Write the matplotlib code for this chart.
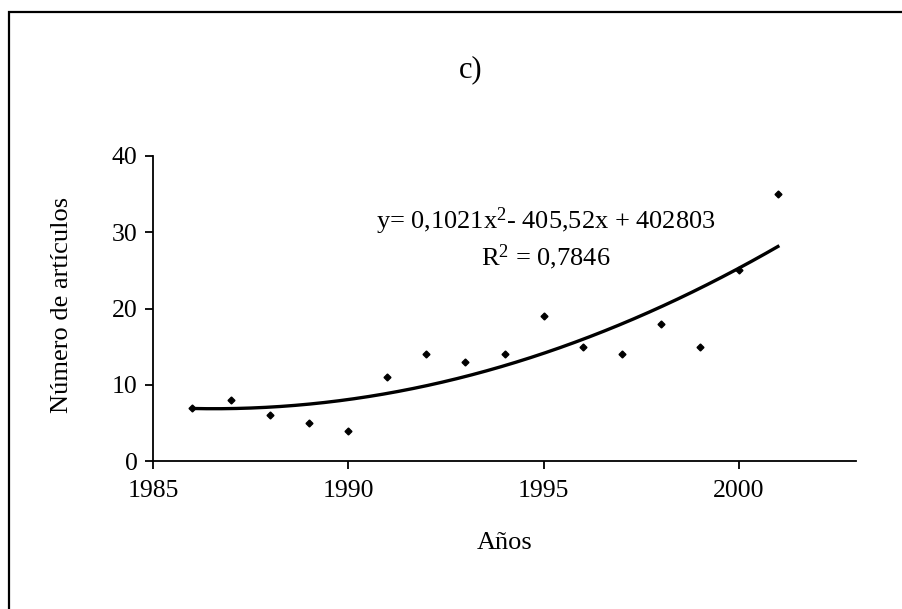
import numpy as np
import matplotlib
matplotlib.use('Agg')
import matplotlib.pyplot as plt
from matplotlib.patches import Rectangle

plt.rcParams['font.family'] = ['Liberation Serif', 'DejaVu Serif']
plt.rcParams['mathtext.fontset'] = 'custom'
plt.rcParams['mathtext.rm'] = 'Liberation Serif'
plt.rcParams['mathtext.it'] = 'Liberation Serif'

# datos
anios = [1986, 1987, 1988, 1989, 1990, 1991, 1992, 1993,
         1994, 1995, 1996, 1997, 1998, 1999, 2000, 2001]
articulos = [7, 8, 6, 5, 4, 11, 14, 13, 14, 19, 15, 14, 18, 15, 25, 35]
xticks = [1985, 1990, 1995, 2000]
yticks = [0, 10, 20, 30, 40]
ecuacion = r'y= 0,1021x$^{2}$- 405,52x + 402803'
r2 = r'R$^{2}$ = 0,7846'

W, H = 903, 609
fig = plt.figure(figsize=(W / 100, H / 100), dpi=100)
ax = fig.add_axes([153 / W, 1 - 461 / H, 703 / W, 305 / H])

# marco exterior
fig.add_artist(Rectangle((9 / W, -0.2), 1.5, 1.2 - 12 / H,
                         transform=fig.transFigure, fill=False,
                         edgecolor='black', linewidth=1.6))

# puntos
ax.plot(anios, articulos, linestyle='none', marker='D', markersize=3.5,
        color='black')

# línea de tendencia polinómica (grado 2)
x = np.array(anios, dtype=float)
c = np.polyfit(x - 1993, articulos, 2)
xx = np.linspace(anios[0], anios[-1], 200)
ax.plot(xx, np.polyval(c, xx - 1993), color='black', linewidth=2.4)

ax.set_xlim(1985, 2003)
ax.set_ylim(0, 40)
ax.set_xticks(xticks)
ax.set_yticks(yticks)
for s in ['top', 'right']:
    ax.spines[s].set_visible(False)
for s in ['left', 'bottom']:
    ax.spines[s].set_linewidth(1.3)
ax.tick_params(direction='out', length=6, width=1.3, labelsize=18.5)
ax.tick_params(axis='x', pad=8)
ax.tick_params(axis='y', pad=5)

# títulos de ejes
fig.text(62 / W, 1 - 305 / H, 'Número de artículos', fontsize=19,
         rotation=90, ha='center', va='center')
fig.text(505 / W, 1 - 543 / H, 'Años', fontsize=19, ha='center', va='center')

ax.text(0.559, (461 - 221) / 305, ecuacion, transform=ax.transAxes,
        fontsize=19, ha='center', va='center')
ax.text(0.559, (461 - 257) / 305, r2, transform=ax.transAxes, fontsize=19,
        ha='center', va='center')

fig.text(471 / W, 1 - 70 / H, 'c)', fontsize=22, ha='center', va='center')

fig.savefig('out.png', dpi=100)
